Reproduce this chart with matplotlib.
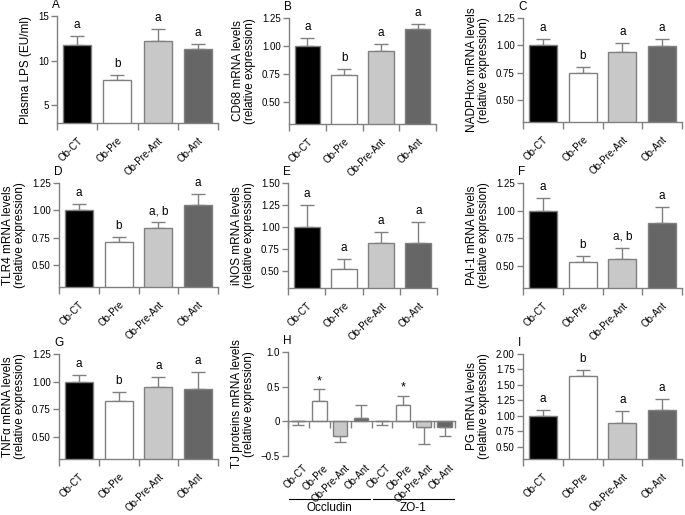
import matplotlib
matplotlib.use("Agg")
import matplotlib.pyplot as plt
import matplotlib.transforms as mtransforms
import numpy as np

plt.rcParams['font.family'] = ['Liberation Sans', 'DejaVu Sans']

groups = ['Ob-CT', 'Ob-Pre', 'Ob-Pre-Ant', 'Ob-Ant']
bar_colors = ['#000000', '#ffffff', '#c8c8c8', '#666666']

lps_mean = [11.75, 7.85, 12.15, 11.35]
lps_sem = [1.05, 0.55, 1.4, 0.5]
lps_sig = ['a', 'b', 'a', 'a']

cd68_mean = [1.00, 0.735, 0.955, 1.155]
cd68_sem = [0.07, 0.055, 0.06, 0.04]
cd68_sig = ['a', 'b', 'a', 'a']

nadph_mean = [1.00, 0.75, 0.94, 0.99]
nadph_sem = [0.06, 0.05, 0.08, 0.07]
nadph_sig = ['a', 'b', 'a', 'a']

tlr4_mean = [1.00, 0.71, 0.84, 1.05]
tlr4_sem = [0.055, 0.05, 0.05, 0.10]
tlr4_sig = ['a', 'b', 'a, b', 'a']

inos_mean = [1.00, 0.53, 0.825, 0.825]
inos_sem = [0.25, 0.105, 0.125, 0.23]
inos_sig = ['a', 'a', 'a', 'a']

pai1_mean = [1.00, 0.535, 0.565, 0.885]
pai1_sem = [0.11, 0.055, 0.10, 0.15]
pai1_sig = ['a', 'b', 'a, b', 'a']

tnf_mean = [1.00, 0.827, 0.955, 0.934]
tnf_sem = [0.06, 0.082, 0.09, 0.15]
tnf_sig = ['a', 'b', 'a', 'a']

occludin_mean = [0.0, 0.30, -0.21, 0.047]
occludin_sem = [0.055, 0.167, 0.086, 0.19]
zo1_mean = [0.0, 0.233, -0.076, -0.076]
zo1_sem = [0.047, 0.134, 0.254, 0.134]
tj_sig = ['', '*', '', '']
tj_genes = ['Occludin', 'ZO-1']

pg_mean = [1.00, 1.646, 0.876, 1.087]
pg_sem = [0.093, 0.098, 0.195, 0.179]
pg_sig = ['a', 'b', 'a', 'a']

W, H = 685, 515
fig = plt.figure(figsize=(W / 100, H / 100), dpi=100)

GRAY = '#808080'
EDGE = '#808080'
TICK_FS = 7
LAB_FS = 8.5


def add_ax(l, t, r, b):
    return fig.add_axes([l / W, 1 - b / H, (r - l) / W, (b - t) / H])


def style(ax):
    for s in ['top', 'right']:
        ax.spines[s].set_visible(False)
    for s in ['left', 'bottom']:
        ax.spines[s].set_color(GRAY)
        ax.spines[s].set_linewidth(1.0)
    ax.tick_params(axis='y', direction='out', length=4, width=1, color=GRAY,
                   labelsize=TICK_FS, pad=2)


def panel_letter(ax, letter):
    ax.annotate(letter, xy=(0, 1), xycoords='axes fraction', xytext=(-5, 5),
                textcoords='offset pixels', ha='left', va='bottom', fontsize=8.5)


def bar_panel(ax, means, sems, sig, ylim, yticks, fmt, ylabel, letter):
    style(ax)
    x = np.arange(len(groups))
    ax.bar(x, means, width=0.7, color=bar_colors, edgecolor=EDGE, linewidth=1.0,
           zorder=2)
    ax.errorbar(x, means, yerr=[np.zeros(len(x)), sems], fmt='none',
                ecolor=GRAY, elinewidth=1.0, capsize=5, capthick=1.0, zorder=1)
    for xi, m, s, t in zip(x, means, sems, sig):
        ax.annotate(t, xy=(xi, m + s), xytext=(0, 5), textcoords='offset pixels',
                    ha='center', va='bottom', fontsize=8.5)
    ax.set_xlim(-0.5, len(groups) - 0.5)
    ax.set_ylim(*ylim)
    ax.set_yticks(yticks)
    ax.set_yticklabels([fmt % v for v in yticks])
    ax.set_xticks(np.arange(len(groups) + 1) - 0.5)
    ax.set_xticklabels([])
    ax.tick_params(axis='x', which='major', direction='out', length=5, width=1,
                   color=GRAY)
    ax.set_xticks(x, minor=True)
    ax.set_xticklabels(groups, minor=True, rotation=45, ha='right',
                       rotation_mode='anchor', fontsize=TICK_FS)
    ax.tick_params(axis='x', which='minor', length=0, pad=9)
    ax.set_ylabel(ylabel, fontsize=LAB_FS, labelpad=4, linespacing=1.0)
    panel_letter(ax, letter)


rel = '\n(relative expression)'
q = [0.50, 0.75, 1.00, 1.25]

axA = add_ax(57, 16, 218, 123)
bar_panel(axA, lps_mean, lps_sem, lps_sig, (3, 15), [5, 10, 15], '%d',
          'Plasma LPS (EU/ml)', 'A')
axB = add_ax(289, 18, 436, 124)
bar_panel(axB, cd68_mean, cd68_sem, cd68_sig, (0.3, 1.25), q, '%.2f',
          'CD68 mRNA levels' + rel, 'B')
axC = add_ax(523, 18, 682, 122)
bar_panel(axC, nadph_mean, nadph_sem, nadph_sig, (0.3, 1.25), q, '%.2f',
          'NADPHox mRNA levels' + rel, 'C')
axD = add_ax(59, 183, 218, 287)
bar_panel(axD, tlr4_mean, tlr4_sem, tlr4_sig, (0.3, 1.25), q, '%.2f',
          'TLR4 mRNA levels' + rel, 'D')
axE = add_ax(288, 183, 437, 288)
bar_panel(axE, inos_mean, inos_sem, inos_sig, (0.31, 1.5),
          [0.50, 0.75, 1.00, 1.25, 1.50], '%.2f', 'iNOS mRNA levels' + rel, 'E')
axF = add_ax(523, 183, 682, 288)
bar_panel(axF, pai1_mean, pai1_sem, pai1_sig, (0.3, 1.25), q, '%.2f',
          'PAI-1 mRNA levels' + rel, 'F')
axG = add_ax(59, 354, 218, 459)
bar_panel(axG, tnf_mean, tnf_sem, tnf_sig, (0.3, 1.25), q, '%.2f',
          'TNF\u03b1 mRNA levels' + rel, 'G')
axI = add_ax(523, 354, 682, 459)
bar_panel(axI, pg_mean, pg_sem, pg_sig, (0.3, 2.0),
          [0.50, 0.75, 1.00, 1.25, 1.50, 1.75, 2.00], '%.2f',
          'PG mRNA levels' + rel, 'I')

# Panel H
axH = add_ax(288, 352, 455, 456)
style(axH)
tj_means = occludin_mean + zo1_mean
tj_sems = occludin_sem + zo1_sem
tj_labels = groups + groups
tj_colors = bar_colors + bar_colors
xh = np.arange(len(tj_means))
axH.bar(xh, tj_means, width=0.7, color=tj_colors, edgecolor=EDGE, linewidth=1.0,
        zorder=2)
lo = [s if m <= 0 else 0 for m, s in zip(tj_means, tj_sems)]
hi = [s if m > 0 else 0 for m, s in zip(tj_means, tj_sems)]
axH.errorbar(xh, tj_means, yerr=[lo, hi], fmt='none', ecolor=GRAY,
             elinewidth=1.0, capsize=4, capthick=1.0, zorder=1)
for xi, m, s, t in zip(xh, tj_means, tj_sems, tj_sig + tj_sig):
    if t:
        axH.annotate(t, xy=(xi, m + s), xytext=(0, 2), textcoords='offset pixels',
                     ha='center', va='bottom', fontsize=9)
axH.set_xlim(-0.5, len(tj_means) - 0.5)
axH.set_ylim(-0.5, 1.0)
axH.set_yticks([-0.5, 0, 0.5, 1.0])
axH.set_yticklabels(['\u22120.5', '0', '0.5', '1.0'])
axH.spines['bottom'].set_position(('data', 0))
axH.set_xticks(np.arange(len(tj_means) + 1) - 0.5)
axH.set_xticklabels([])
axH.tick_params(axis='x', which='major', direction='out', length=5, width=1,
                color=GRAY)
trans = mtransforms.blended_transform_factory(axH.transData, axH.transAxes)
for xi, lab in zip(xh, tj_labels):
    axH.annotate(lab, xy=(xi, 0), xycoords=trans, xytext=(4, -7),
                 textcoords='offset pixels', rotation=45, ha='right', va='top',
                 rotation_mode='anchor', fontsize=TICK_FS)
axH.set_ylabel('TJ proteins mRNA levels' + rel, fontsize=LAB_FS, labelpad=4,
               linespacing=1.0)
panel_letter(axH, 'H')
line_y = -(499 - 456) / (456 - 352)
for gi, gname in enumerate(tj_genes):
    x0 = gi * 4 - 0.45
    x1 = gi * 4 + 3.45
    axH.plot([x0, x1], [line_y, line_y], color='#000000', lw=0.8,
             transform=trans, clip_on=False)
    axH.text((x0 + x1) / 2, line_y - 0.03, gname, transform=trans, ha='center',
             va='top', fontsize=8.5)

fig.savefig('out.png', dpi=100)
